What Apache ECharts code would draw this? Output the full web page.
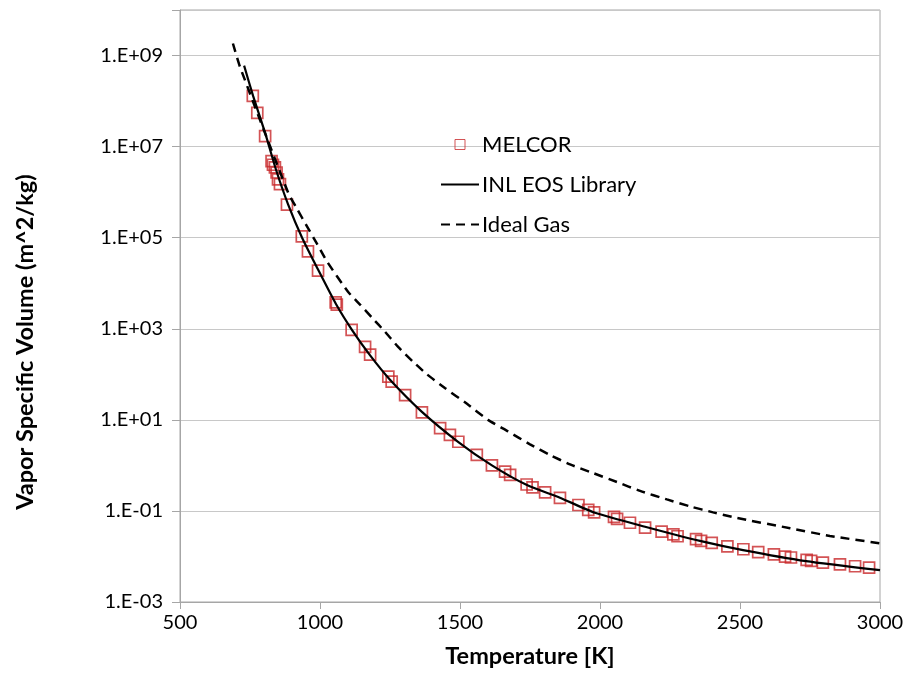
<!DOCTYPE html>
<html>
<head>
<meta charset="utf-8">
<title>Vapor Specific Volume</title>
<script src="https://cdn.jsdelivr.net/npm/echarts@6/dist/echarts.min.js"></script>
<style>
  html, body { margin: 0; padding: 0; background: #fff; }
  #chart { width: 912px; height: 685px; }
</style>
</head>
<body>
<div id="chart"></div>
<script>
// MELCOR points (temperature K, specific volume)
const melcorT = [760, 776, 804, 827, 832, 839, 845, 850, 857, 882, 935, 957, 993, 1056, 1060,
  1113, 1161, 1179, 1244, 1256, 1304, 1364, 1429, 1464, 1494, 1560, 1614, 1661, 1679, 1738,
  1759, 1804, 1857, 1923, 1958, 1979, 2050, 2061, 2107, 2161, 2220, 2262, 2277, 2343, 2361,
  2399, 2455, 2512, 2565, 2621, 2661, 2682, 2738, 2754, 2796, 2857, 2911, 2961];
const melcorV = [1.3e8, 5.5e7, 1.7e7, 4.8e6, 4.0e6, 3.5e6, 2.7e6, 1.9e6, 1.5e6, 5.3e5, 1.07e5, 5.0e4, 1.9e4, 3.8e3, 3.4e3,
  950, 400, 270, 89, 69, 35, 14.6, 6.6, 4.7, 3.3, 1.7, 1.0, 0.73, 0.62, 0.38,
  0.33, 0.255, 0.193, 0.135, 0.105, 0.093, 0.074, 0.067, 0.055, 0.043, 0.035, 0.0305, 0.0278, 0.024, 0.0219,
  0.0198, 0.0167, 0.0144, 0.0124, 0.0111, 0.0099, 0.0095, 0.0084, 0.0080, 0.0073, 0.0067, 0.0061, 0.0057];

// INL EOS Library curve
const inlT = [729, 761, 804, 843, 886, 936, 993, 1057, 1114, 1179, 1250, 1364, 1493, 1614, 1739,
  1857, 1982, 2161, 2357, 2511, 2736, 3000];
const inlV = [6.0e8, 1.3e8, 2.0e7, 3.1e6, 5.4e5, 1.0e5, 2.0e4, 3.5e3, 950, 260, 76, 15, 3.3, 1.0, 0.37,
  0.195, 0.091, 0.045, 0.022, 0.0138, 0.0079, 0.0050];

// Ideal gas curve
const idealT = [689, 714, 886, 918, 954, 989, 1025, 1100, 1143, 1186, 1232, 1279, 1332, 1382, 1446,
  1525, 1600, 1671, 1750, 1821, 1893, 1964, 2061, 2143, 2239, 2321, 2404, 2489, 2679, 2821, 3000];
const idealV = [1.84e9, 5.7e8, 9.8e5, 4.3e5, 1.75e5, 7.4e4, 3.0e4, 6.5e3, 3.4e3, 1.75e3, 860, 400, 190, 100, 50,
  22.5, 10, 5.6, 2.9, 1.70, 1.05, 0.72, 0.43, 0.275, 0.179, 0.126, 0.093, 0.070, 0.0417, 0.0282, 0.0195];

const seriesNames = ['MELCOR', 'INL EOS Library', 'Ideal Gas'];

const pairs = (xs, ys) => xs.map((x, i) => [x, ys[i]]);

// 1.E+09 style labels
const expLabel = v => {
  const e = Math.round(Math.log10(v));
  if (e > 9) return '';
  return '1.E' + (e < 0 ? '-' : '+') + String(Math.abs(e)).padStart(2, '0');
};

const font = 'Lato, "Open Sans", sans-serif';
const red = '#c8282a';
const chart = echarts.init(document.getElementById('chart'));

const option = {
  animation: false,
  backgroundColor: '#fff',
  grid: {
    left: 180, right: 32, top: 10, bottom: 83,
    show: true, borderColor: '#a6a6a6', borderWidth: 1
  },
  legend: {
    orient: 'vertical',
    left: 440, top: 132,
    padding: 0,
    itemWidth: 38, itemHeight: 10, itemGap: 15,
    textStyle: { fontFamily: font, fontSize: 22, color: '#000', lineHeight: 25, padding: [0, 0, 0, -2] },
    data: [
      {
        name: seriesNames[0],
        icon: 'path://M0,0L10,0L10,10L0,10Z',
        itemStyle: { color: 'transparent', borderColor: red, borderWidth: 1 }
      },
      { name: seriesNames[1], itemStyle: { color: 'transparent', borderWidth: 0, opacity: 0 } },
      { name: seriesNames[2], itemStyle: { color: 'transparent', borderWidth: 0, opacity: 0 } }
    ]
  },
  xAxis: {
    type: 'value',
    min: 500, max: 3000, interval: 500,
    name: 'Temperature [K]',
    nameLocation: 'middle', nameGap: 42,
    nameTextStyle: { fontFamily: font, fontSize: 23.5, fontWeight: 'bold', color: '#000' },
    axisLine: { lineStyle: { color: '#a6a6a6' } },
    axisTick: { show: true, length: 7, lineStyle: { color: '#a6a6a6' } },
    axisLabel: { fontFamily: font, fontSize: 20, color: '#000', margin: 11, formatter: v => String(v) },
    splitLine: { show: false }
  },
  yAxis: {
    type: 'log', logBase: 10,
    min: 1e-3, max: 1e10, interval: 2,
    name: 'Vapor Specific Volume (m^2/kg)',
    nameLocation: 'middle', nameGap: 143,
    nameTextStyle: { fontFamily: font, fontSize: 23.5, fontWeight: 'bold', color: '#000', padding: [0, 72, 0, 0] },
    axisLine: { show: true, lineStyle: { color: '#a6a6a6' } },
    axisTick: { show: true, length: 8, lineStyle: { color: '#a6a6a6' } },
    axisLabel: { fontFamily: font, fontSize: 20, color: '#000', margin: 17, formatter: expLabel },
    splitLine: { show: true, lineStyle: { color: '#c8c8c8', width: 1 } }
  },
  series: [
    {
      name: seriesNames[0],
      type: 'scatter',
      symbol: 'rect',
      symbolSize: 11,
      itemStyle: { color: 'transparent', borderColor: red, borderWidth: 1.7 },
      z: 2,
      data: pairs(melcorT, melcorV)
    },
    {
      name: seriesNames[1],
      type: 'line',
      showSymbol: false,
      smooth: 0.2,
      lineStyle: { color: '#000', width: 2.2 },
      itemStyle: { color: '#000' },
      z: 3,
      data: pairs(inlT, inlV)
    },
    {
      name: seriesNames[2],
      type: 'line',
      showSymbol: false,
      smooth: 0.2,
      lineStyle: { color: '#000', width: 2.5, type: [9, 6] },
      itemStyle: { color: '#000' },
      z: 3,
      data: pairs(idealT, idealV)
    }
  ]
};

chart.setOption(option);
</script>
</body>
</html>
